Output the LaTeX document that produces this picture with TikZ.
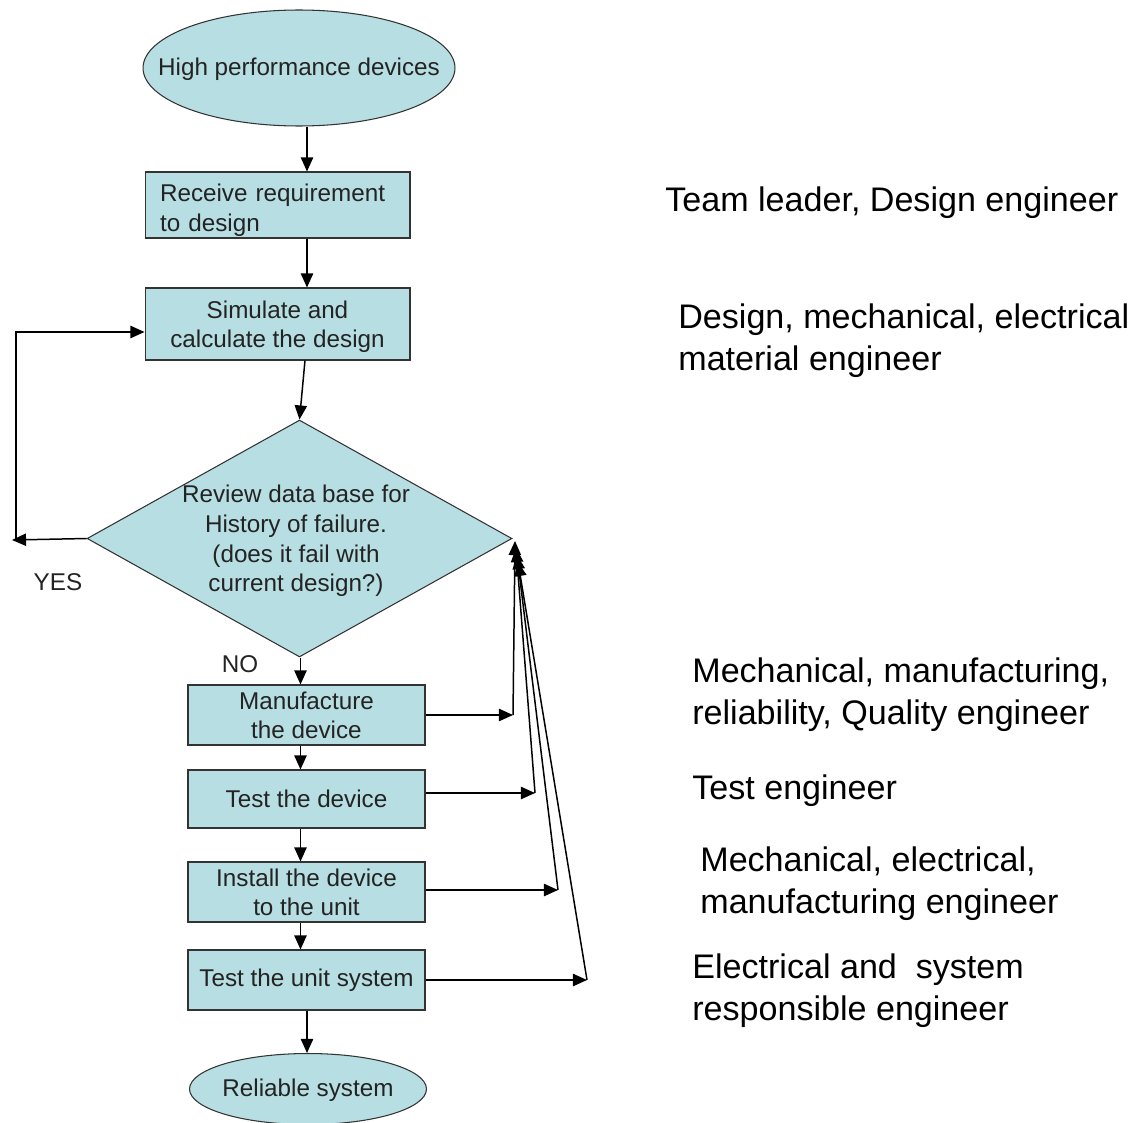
\documentclass[tikz,border=0pt]{standalone}
\usepackage{fontspec}
\setmainfont{Liberation Sans}
\usetikzlibrary{shapes.geometric,arrows.meta}
\definecolor{boxfill}{RGB}{183,222,226}
\definecolor{txt}{RGB}{35,35,35}
\begin{document}
\begin{tikzpicture}[x=0.02cm,y=-0.02cm,
  arr/.style={-{Triangle[length=8pt,width=7pt]},line width=0.85pt,black},
  shapebase/.style={draw=black!80,line width=0.6pt,fill=boxfill,text=txt,font=\fontsize{13.8}{16.6}\selectfont,inner sep=0pt,align=center},
  proc/.style={shapebase,rectangle},
  term/.style={shapebase,ellipse},
  decis/.style={shapebase,diamond},
  role/.style={anchor=west,inner sep=0pt,align=left,font=\fontsize{19.4}{24}\selectfont,text=black},
  lbl/.style={inner sep=0pt,text=txt,font=\fontsize{13.8}{16.8}\selectfont,align=center}]
\useasboundingbox (0,0) rectangle (1142,1122);

% shapes
\node[term,minimum width=6.24cm,minimum height=2.32cm] (top) at (299,68) {};
\node[lbl] (toptext) at (299,69) {High performance devices};
\node[proc,minimum width=5.3cm,minimum height=1.32cm,text width=4.7cm,align=left,inner xsep=0.3cm] (recv) at (277.5,205) {\rule{0pt}{16pt}Receive requirement\\to design};
\node[proc,minimum width=5.3cm,minimum height=1.44cm] (sim) at (277.5,324) {\rule{0pt}{13pt}Simulate and\\calculate the design};
\node[decis,minimum width=8.5cm,minimum height=4.74cm] (dia) at (299.5,538.5) {};
\node[lbl] (diatext) at (296,541) {Review data base for\\History of failure.\\(does it fail with\\current design?)};
\node[proc,minimum width=4.74cm,minimum height=1.2cm] (manu) at (306.5,715) {Manufacture\\the device};
\node[proc,minimum width=4.74cm,minimum height=1.16cm] (testd) at (306.5,799) {Test the device};
\node[proc,minimum width=4.74cm,minimum height=1.2cm] (inst) at (306.5,892) {Install the device\\to the unit};
\node[proc,minimum width=4.74cm,minimum height=1.2cm] (testu) at (306.5,980) {Test the unit system};
\node[term,minimum width=4.74cm,minimum height=1.42cm] (rel) at (308,1089) {};
\node[lbl] (reltext) at (308,1090) {Reliable system};

% labels
\node[lbl] (yes) at (58,582) {YES};
\node[lbl] (no) at (240,664) {NO};

% roles
\node[role] (r1) at (665,203) {Team leader, Design engineer};
\node[role] (r2) at (678,341) {Design, mechanical, electrical\\material engineer};
\node[role] (r3) at (692,695) {Mechanical, manufacturing,\\reliability, Quality engineer};
\node[role] (r4) at (692,791) {Test engineer};
\node[role] (r5) at (700,884) {Mechanical, electrical,\\manufacturing engineer};
\node[role] (r6) at (692,991) {Electrical and\ \ system\\responsible engineer};

% main flow
\coordinate (ax) at (307,0);
\coordinate (bx) at (300.5,0);
\draw[arr] (top.south -| ax) -- (recv.north -| ax);
\draw[arr] (recv.south -| ax) -- (sim.north -| ax);
\draw[arr] ([xshift=0.55cm]sim.south) -- (dia.north);
\draw[arr] (dia.south -| bx) -- (manu.north -| bx);
\draw[arr] (manu.south -| bx) -- (testd.north -| bx);
\draw[arr] (testd.south -| bx) -- (inst.north -| bx);
\draw[arr] (inst.south -| bx) -- (testu.north -| bx);
\draw[arr] (testu.south -| ax) -- (rel.north -| ax);

% YES loop
\coordinate (lb) at (12,540);
\coordinate (lc) at (16,540);
\coordinate (lt) at (16,332);
\draw[arr] (dia.west) -- (lb);
\draw[arr] (lc) -- (lt) -- (sim.west |- lt);

% feedback arrows
\coordinate (t1) at (513,715);
\coordinate (t2) at (535,793);
\coordinate (t3) at (558,890);
\coordinate (t4) at (587,980);
\coordinate (a1) at (515,541);
\coordinate (a2) at (516,548);
\coordinate (a3) at (517,555);
\coordinate (a4) at (518,562);
\draw[arr] (manu.east |- t1) -- (t1);
\draw[arr] (testd.east |- t2) -- (t2);
\draw[arr] (inst.east |- t3) -- (t3);
\draw[arr] (testu.east |- t4) -- (t4);
\draw[arr] (t1) -- (a1);
\draw[arr] (t2) -- (a2);
\draw[arr] (t3) -- (a3);
\draw[arr] (t4) -- (a4);
\end{tikzpicture}
\end{document}
